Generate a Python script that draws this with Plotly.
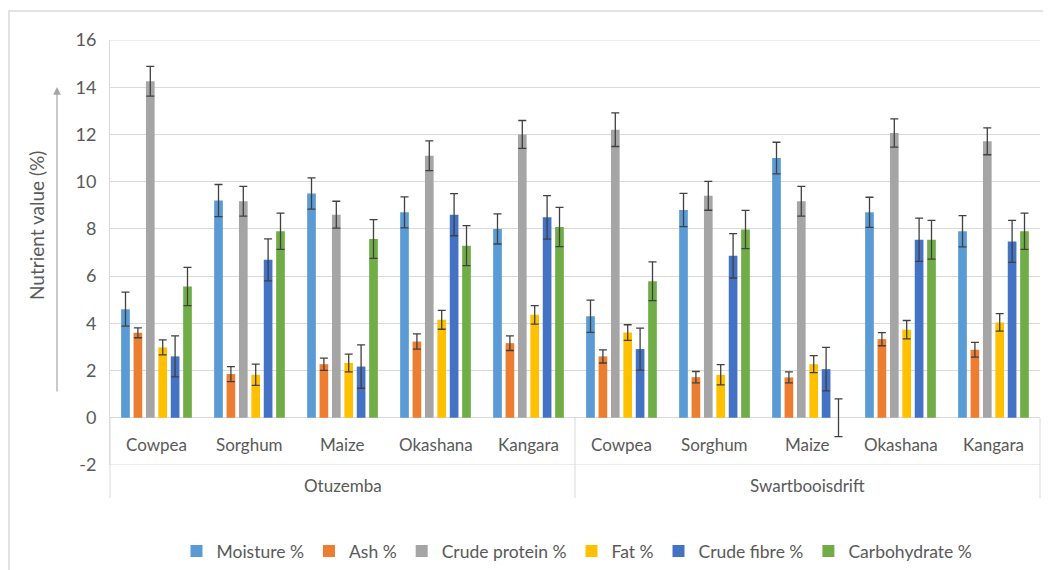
import plotly.graph_objects as go

# ---------------- data ----------------
sites = ["Otuzemba", "Swartbooisdrift"]
crops = ["Cowpea", "Sorghum", "Maize", "Okashana", "Kangara"]

series_names = ["Moisture %", "Ash %", "Crude protein %", "Fat %", "Crude fibre %", "Carbohydrate %"]

# values per (site, crop): Otuzemba crops then Swartbooisdrift crops
moisture = [4.6, 9.2, 9.5, 8.7, 8.0, 4.3, 8.8, 11.0, 8.7, 7.9]
ash = [3.6, 1.85, 2.27, 3.23, 3.16, 2.6, 1.72, 1.71, 3.33, 2.88]
protein = [14.25, 9.17, 8.6, 11.1, 12.0, 12.2, 9.4, 9.17, 12.06, 11.71]
fat = [2.98, 1.82, 2.32, 4.15, 4.36, 3.61, 1.82, 2.27, 3.73, 4.04]
fibre = [2.6, 6.69, 2.17, 8.6, 8.49, 2.91, 6.86, 2.06, 7.54, 7.47]
carb = [5.56, 7.9, 7.57, 7.29, 8.08, 5.78, 7.97, 0.0, 7.54, 7.9]

moisture_err = [0.72, 0.68, 0.66, 0.66, 0.64, 0.68, 0.7, 0.67, 0.64, 0.66]
ash_err = [0.21, 0.32, 0.26, 0.32, 0.31, 0.28, 0.24, 0.23, 0.28, 0.31]
protein_err = [0.63, 0.63, 0.57, 0.63, 0.59, 0.71, 0.61, 0.63, 0.6, 0.57]
fat_err = [0.32, 0.45, 0.38, 0.4, 0.39, 0.33, 0.43, 0.36, 0.39, 0.37]
fibre_err = [0.87, 0.89, 0.92, 0.89, 0.92, 0.89, 0.94, 0.92, 0.92, 0.89]
carb_err = [0.81, 0.77, 0.82, 0.85, 0.83, 0.82, 0.81, 0.8, 0.82, 0.77]

y_ticks = [-2, 0, 2, 4, 6, 8, 10, 12, 14, 16]
y_tick_labels = ["-2", "0", "2", "4", "6", "8", "10", "12", "14", "16"]

# ---------------- styling ----------------
colors = ["#5B9BD5", "#ED7D31", "#A5A5A5", "#FFC000", "#4472C4", "#70AD47"]
FONT = "Lato"
TXT = "#595959"
GRID = "#D9D9D9"

# the page body has an 8px margin, so screen targets are shifted by OFF
OFF = 8
W, H = 1051, 570
ML, MT = 110 - OFF, 40 - OFF
MR = W - (1040 - OFF)
MB = H - (465 - OFF)
PW, PH = W - ML - MR, H - MT - MB


def px_x(px):
    return (px - OFF - ML) / PW


def px_y(py):
    return (H - MB - (py - OFF)) / PH


x_keys = [f"{s}|{c}" for s in sites for c in crops]
values = [moisture, ash, protein, fat, fibre, carb]
errors = [moisture_err, ash_err, protein_err, fat_err, fibre_err, carb_err]

fig = go.Figure()
for name, vals, errs, col in zip(series_names, values, errors, colors):
    fig.add_trace(go.Bar(
        x=x_keys, y=vals, name=name, marker=dict(color=col, line=dict(width=0)),
        error_y=dict(type="data", array=errs, visible=True, color="#404040",
                     thickness=1.3, width=4),
    ))

shapes = []
# top gridline and bottom (-2) line
for yv in [16, -2]:
    shapes.append(dict(type="line", xref="x", yref="y", x0=-0.5, x1=9.5, y0=yv, y1=yv,
                       line=dict(color=GRID, width=1), layer="below"))
# group separators extending below the plot area
for xv in [0, 0.5, 1]:
    shapes.append(dict(type="line", xref="paper", yref="paper", x0=xv, x1=xv,
                       y0=px_y(418), y1=px_y(498),
                       line=dict(color=GRID, width=1), layer="below"))
# outer chart border
shapes.append(dict(type="rect", xref="paper", yref="paper",
                   x0=px_x(9), x1=px_x(1070), y0=px_y(590), y1=px_y(11),
                   line=dict(color=GRID, width=1.5), fillcolor="rgba(0,0,0,0)", layer="below"))

annotations = []
for i, s in enumerate(sites):
    for c in crops:
        annotations.append(dict(x=f"{s}|{c}", y=-1.14, xref="x", yref="y", text=c,
                                showarrow=False, font=dict(family=FONT, size=17, color=TXT)))
    annotations.append(dict(x=0.25 + 0.5 * i, y=px_y(485), xref="paper", yref="paper",
                            xanchor="center", yanchor="middle", text=s,
                            showarrow=False, font=dict(family=FONT, size=17, color=TXT)))
# y-axis title
annotations.append(dict(x=px_x(36), y=px_y(226), xref="paper", yref="paper",
                        xanchor="center", yanchor="middle",
                        text="Nutrient value (%)", textangle=-90, showarrow=False,
                        font=dict(family=FONT, size=19, color=TXT)))
# arrow
annotations.append(dict(x=px_x(57), y=px_y(87), xref="paper", yref="paper", text="",
                        showarrow=True, ax=0, ay=306, arrowhead=2, arrowsize=1.3,
                        arrowwidth=1.2, arrowcolor="#A6A6A6"))

fig.update_layout(
    width=W, height=H,
    margin=dict(l=ML, r=MR, t=MT, b=MB, autoexpand=False),
    paper_bgcolor="white", plot_bgcolor="white",
    barmode="group", bargap=0.2, bargroupgap=0.3,
    font=dict(family=FONT, size=17, color=TXT),
    showlegend=True,
    legend=dict(orientation="h", x=px_x(577), xanchor="center", y=px_y(551), yanchor="middle",
                font=dict(family=FONT, size=17.5, color=TXT), itemwidth=30,
                traceorder="normal"),
    xaxis=dict(type="category", showticklabels=False, showgrid=False, ticks="",
               showline=False, zeroline=False, range=[-0.5, 9.5], fixedrange=True,
               automargin=False),
    yaxis=dict(range=[-2, 16], tickvals=y_ticks, ticktext=y_tick_labels,
               showgrid=True, gridcolor=GRID, gridwidth=1,
               zeroline=True, zerolinecolor=GRID, zerolinewidth=1,
               showline=True, linecolor=GRID, linewidth=1, ticks="", automargin=False,
               tickfont=dict(family=FONT, size=18, color=TXT), ticklabelstandoff=9),
    shapes=shapes, annotations=annotations,
)

fig.write_html("out.html")
